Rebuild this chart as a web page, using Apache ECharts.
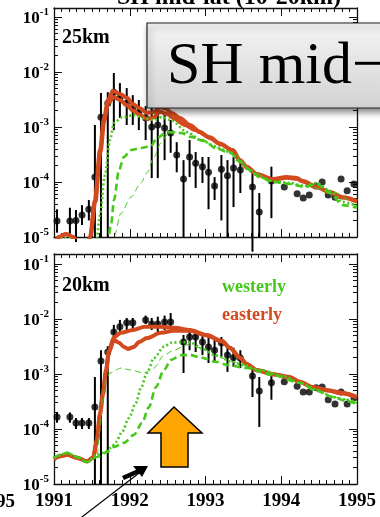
<!DOCTYPE html>
<html>
<head>
<meta charset="utf-8">
<script src="https://cdn.jsdelivr.net/npm/echarts@6.0.0/dist/echarts.min.js"></script>
<style>
  html, body { margin: 0; padding: 0; background: #fff; }
  #main { width: 380px; height: 517px; }
</style>
</head>
<body>
<div id="main"></div>
<script>
var RED = '#d24a1e';
var GREEN = '#46c81a';
var SERIF = '"Liberation Serif", "DejaVu Serif", serif';

// ---- 25km panel : observations (monthly) ----
var OBS25_T  = [1991.04, 1991.21, 1991.29, 1991.37, 1991.46, 1991.54, 1991.62, 1991.71, 1991.79, 1991.87, 1991.96, 1992.04, 1992.12, 1992.21, 1992.29, 1992.37, 1992.46, 1992.54, 1992.62, 1992.71, 1992.79, 1992.87, 1992.96, 1993.04, 1993.12, 1993.21, 1993.29, 1993.37, 1993.46, 1993.62, 1993.71, 1993.87, 1994.04, 1994.21, 1994.29, 1994.37, 1994.46, 1994.54, 1994.62, 1994.71, 1994.79, 1994.87, 1994.96];
var OBS25    = [1.95e-5, 1.95e-5, 2.0e-5, 2.5e-5, 3.2e-5, 1.23e-4, 1.5e-3, 2.7e-3, 4.3e-3, 3.4e-3, 2.7e-3, 2.2e-3, 1.85e-3, 1.46e-3, 1.0e-3, 1.09e-3, 9.6e-4, 7.8e-4, 3.1e-4, 1.13e-4, 2.85e-4, 2.2e-4, 1.9e-4, 1.5e-4, 8.5e-5, 1.7e-4, 1.3e-4, 1.8e-4, 1.65e-4, 8.1e-5, 2.85e-5, 1.04e-4, 8.1e-5, 6.1e-5, 5.1e-5, 5.8e-5, 8.5e-5, 1.0e-4, 5.8e-5, 5.3e-5, 1.13e-4, 6.9e-5, 9.2e-5];
var OBS25_HI = [3.2e-5, 3.4e-5, 3.1e-5, 3.8e-5, 4.7e-5, 1.09e-3, 4.15e-3, 4.3e-3, 9.6e-3, 6.3e-3, 5.1e-3, 3.8e-3, 3.1e-3, 2.4e-3, 2.3e-3, 1.9e-3, 1.65e-3, 1.34e-3, 5.3e-4, 2.5e-4, 5.8e-4, 3.5e-4, 2.85e-4, 2.85e-4, 1.23e-4, 3.1e-4, 2.5e-4, 2.85e-4, 2.5e-4, 1.65e-4, 6.3e-5, 1.9e-4, null, null, null, null, null, null, null, null, null, null, null];
var OBS25_LO = [1.2e-5, 1.0e-5, 8.1e-6, 1.65e-5, 2.0e-5, 1.0e-5, 1.0e-5, 1.0e-5, 8.8e-4, 1.46e-3, 1.09e-3, 1.09e-3, 8.8e-4, 5.8e-4, 1.18e-4, 1.18e-4, 2.5e-4, 3.4e-4, 1.5e-4, 1.0e-5, 1.23e-4, 7.8e-5, 9.6e-5, 3.2e-5, 4.7e-5, 2.0e-5, 1.0e-5, 3.5e-5, 6.3e-5, 5.4e-6, 1.0e-5, 2.2e-5, null, null, null, null, null, null, null, null, null, null, null];

// ---- 25km panel : model runs ----
var E25A_T = [1991.0, 1991.066, 1991.158, 1991.25, 1991.343, 1991.435, 1991.475, 1991.54, 1991.607, 1991.66, 1991.712, 1991.778, 1991.871, 1991.963, 1992.042, 1992.135, 1992.227, 1992.319, 1992.398, 1992.464, 1992.557, 1992.662, 1992.794, 1992.926, 1993.058, 1993.19, 1993.362, 1993.454, 1993.546, 1993.678, 1993.889, 1994.074, 1994.206, 1994.285, 1994.47, 1994.641, 1994.813, 1995.0];
var E25A   = [7.2e-6, 1.0e-5, 1.13e-5, 1.0e-5, 6.9e-6, 6.9e-6, 1.0e-5, 4.7e-5, 3.8e-4, 1.46e-3, 3.1e-3, 4.5e-3, 4.0e-3, 3.4e-3, 2.6e-3, 2.2e-3, 1.8e-3, 1.87e-3, 2.3e-3, 2.2e-3, 1.8e-3, 1.46e-3, 1.09e-3, 8.1e-4, 6.3e-4, 4.9e-4, 3.8e-4, 2.5e-4, 1.9e-4, 1.4e-4, 1.13e-4, 1.23e-4, 1.18e-4, 1.04e-4, 8.1e-5, 6.6e-5, 5.3e-5, 4.5e-5];
var E25B_T = [1991.0, 1991.066, 1991.158, 1991.25, 1991.343, 1991.435, 1991.48, 1991.545, 1991.612, 1991.665, 1991.712, 1991.792, 1991.871, 1991.963, 1992.042, 1992.135, 1992.227, 1992.319, 1992.398, 1992.491, 1992.596, 1992.728, 1992.86, 1993.058, 1993.19, 1993.362, 1993.454, 1993.546, 1993.678, 1993.889, 1994.074, 1994.206, 1994.285, 1994.47, 1994.641, 1994.813, 1995.0];
var E25B   = [7.2e-6, 1.0e-5, 1.13e-5, 1.0e-5, 6.9e-6, 6.9e-6, 1.0e-5, 4.3e-5, 3.4e-4, 1.3e-3, 2.7e-3, 3.5e-3, 3.1e-3, 2.5e-3, 2.0e-3, 1.65e-3, 1.4e-3, 1.5e-3, 1.9e-3, 1.72e-3, 1.4e-3, 1.09e-3, 8.8e-4, 6.5e-4, 5.0e-4, 3.7e-4, 2.4e-4, 1.85e-4, 1.38e-4, 1.1e-4, 1.2e-4, 1.15e-4, 1.02e-4, 8.0e-5, 6.5e-5, 5.2e-5, 4.4e-5];
var W25DOT_T = [1991.0, 1991.1, 1991.2, 1991.3, 1991.554, 1991.607, 1991.673, 1991.739, 1991.792, 1991.897, 1992.055, 1992.187, 1992.319, 1992.412, 1992.544, 1992.755, 1992.939, 1993.124, 1993.322, 1993.454, 1993.586, 1993.718, 1993.889, 1994.113, 1994.311, 1994.47, 1994.641, 1994.813, 1995.0];
var W25DOT   = [7.0e-6, 9.5e-6, 9.5e-6, 7.0e-6, 7.2e-6, 2.5e-5, 1.34e-4, 5.8e-4, 1.18e-3, 1.5e-3, 1.65e-3, 1.46e-3, 1.34e-3, 1.5e-3, 1.34e-3, 8.1e-4, 5.8e-4, 4.5e-4, 3.5e-4, 2.3e-4, 1.58e-4, 1.23e-4, 1.04e-4, 9.6e-5, 8.5e-5, 9.6e-5, 6.9e-5, 4.3e-5, 3.7e-5];
var W25DASH_T = [1991.712, 1991.752, 1991.792, 1991.858, 1991.923, 1992.016, 1992.148, 1992.28, 1992.359, 1992.491, 1992.675, 1992.807, 1992.979, 1993.15, 1993.322, 1993.454, 1993.586, 1993.718, 1993.889, 1994.113, 1994.311, 1994.47, 1994.641, 1994.813, 1995.0];
var W25DASH   = [7.2e-6, 1.65e-5, 4.7e-5, 1.65e-4, 2.85e-4, 3.8e-4, 4.15e-4, 4.5e-4, 6.3e-4, 8.1e-4, 7.8e-4, 6.6e-4, 5.6e-4, 4.0e-4, 3.4e-4, 2.4e-4, 1.65e-4, 1.23e-4, 1.0e-4, 9.2e-5, 8.1e-5, 9.2e-5, 6.3e-5, 3.8e-5, 3.4e-5];
var W25THIN_T = [1991.765, 1991.792, 1991.884, 1992.016, 1992.148, 1992.227, 1992.319, 1992.412, 1992.491, 1992.596, 1992.755, 1992.939, 1993.15, 1993.361, 1993.586, 1993.889, 1994.311, 1994.641, 1995.0];
var W25THIN   = [7.2e-6, 1.0e-5, 2.7e-5, 5.3e-5, 9.6e-5, 1.46e-4, 2.85e-4, 5.1e-4, 7.2e-4, 8.1e-4, 7.8e-4, 5.8e-4, 4.15e-4, 3.4e-4, 1.65e-4, 1.04e-4, 8.5e-5, 6.9e-5, 3.5e-5];

// ---- 20km panel : observations ----
var OBS20_T  = [1991.04, 1991.21, 1991.29, 1991.37, 1991.46, 1991.54, 1991.62, 1991.71, 1991.79, 1991.87, 1991.96, 1992.04, 1992.21, 1992.29, 1992.37, 1992.46, 1992.54, 1992.71, 1992.79, 1992.87, 1992.96, 1993.04, 1993.12, 1993.21, 1993.29, 1993.37, 1993.46, 1993.62, 1993.71, 1993.87, 1994.04, 1994.21, 1994.29, 1994.37, 1994.46, 1994.54, 1994.62, 1994.71, 1994.79, 1994.87, 1994.96];
var OBS20    = [1.65e-4, 1.65e-4, 1.28e-4, 1.28e-4, 1.28e-4, 2.5e-4, 1.72e-3, 2.5e-3, 5.8e-3, 7.2e-3, 8.5e-3, 8.5e-3, 9.6e-3, 8.1e-3, 8.1e-3, 8.8e-3, 8.8e-3, 3.8e-3, 4.7e-3, 4.7e-3, 3.8e-3, 3.1e-3, 2.7e-3, 3.7e-3, 2.2e-3, 2.0e-3, 1.95e-3, 9.2e-4, 4.9e-4, 6.9e-4, 7.2e-4, 6.0e-4, 4.7e-4, 4.7e-4, 5.6e-4, 5.8e-4, 3.4e-4, 2.85e-4, 4.7e-4, 2.85e-4, 3.7e-4];
var OBS20_HI = [2.0e-4, 2.0e-4, 1.58e-4, 1.58e-4, 1.58e-4, 8.8e-4, 2.7e-3, 3.2e-3, 7.8e-3, 9.6e-3, 1.04e-2, 1.04e-2, 1.15e-2, 1.04e-2, 1.1e-2, 1.15e-2, 1.28e-2, 5.1e-3, 6.3e-3, 6.3e-3, 5.1e-3, 5.1e-3, 4.15e-3, 4.7e-3, 3.2e-3, 3.0e-3, 2.7e-3, 1.34e-3, 8.8e-4, 9.6e-4, null, null, null, null, null, null, null, null, null, null, null];
var OBS20_LO = [1.3e-4, 1.3e-4, 1.0e-4, 1.0e-4, 1.0e-4, 1.0e-5, 1.0e-5, 1.0e-5, 3.7e-3, 5.6e-3, 6.3e-3, 6.3e-3, 8.1e-3, 6.3e-3, 5.6e-3, 6.3e-3, 6.3e-3, 1.04e-3, 2.7e-3, 2.5e-3, 2.2e-3, 1.58e-3, 1.6e-3, 2.0e-3, 1.09e-3, 1.34e-3, 1.28e-3, 3.8e-4, 1.09e-4, 3.4e-4, null, null, null, null, null, null, null, null, null, null, null];

// ---- 20km panel : model runs ----
var E20A_T = [1991.0, 1991.079, 1991.172, 1991.303, 1991.435, 1991.515, 1991.567, 1991.607, 1991.646, 1991.686, 1991.726, 1991.792, 1991.884, 1992.042, 1992.2, 1992.398, 1992.596, 1992.794, 1993.018, 1993.216, 1993.322, 1993.454, 1993.546, 1993.678, 1993.889, 1994.113, 1994.245, 1994.417, 1994.602, 1994.813, 1995.0];
var E20A   = [2.85e-5, 3.2e-5, 3.4e-5, 3.0e-5, 2.6e-5, 3.0e-5, 6.3e-5, 1.95e-4, 4.5e-4, 1.18e-3, 2.7e-3, 4.7e-3, 5.6e-3, 6.3e-3, 7.2e-3, 7.2e-3, 6.9e-3, 6.3e-3, 5.1e-3, 4.0e-3, 3.0e-3, 2.0e-3, 1.52e-3, 1.18e-3, 1.0e-3, 8.8e-4, 7.2e-4, 5.8e-4, 5.1e-4, 4.5e-4, 3.8e-4];
var E20B_T = [1991.0, 1991.079, 1991.172, 1991.303, 1991.435, 1991.515, 1991.567, 1991.607, 1991.646, 1991.686, 1991.726, 1991.792, 1991.858, 1991.923, 1991.976, 1992.055, 1992.121, 1992.227, 1992.412, 1992.583, 1992.794, 1993.018, 1993.216, 1993.322, 1993.454, 1993.546, 1993.678, 1993.889, 1994.113, 1994.245, 1994.417, 1994.602, 1994.813, 1995.0];
var E20B   = [2.85e-5, 3.2e-5, 3.4e-5, 3.0e-5, 2.6e-5, 3.0e-5, 6.0e-5, 1.8e-4, 4.2e-4, 1.1e-3, 2.5e-3, 4.15e-3, 3.7e-3, 3.1e-3, 2.85e-3, 3.1e-3, 3.8e-3, 4.5e-3, 5.6e-3, 6.1e-3, 6.1e-3, 5.0e-3, 3.9e-3, 2.95e-3, 1.98e-3, 1.5e-3, 1.16e-3, 9.8e-4, 8.6e-4, 7.1e-4, 5.7e-4, 5.0e-4, 4.4e-4, 3.75e-4];
var W20DOT_T = [1991.0, 1991.092, 1991.172, 1991.303, 1991.435, 1991.567, 1991.66, 1991.752, 1991.818, 1991.897, 1991.989, 1992.082, 1992.148, 1992.227, 1992.319, 1992.451, 1992.544, 1992.675, 1992.807, 1992.966, 1993.124, 1993.361, 1993.493, 1993.718, 1994.021, 1994.245, 1994.47, 1994.681, 1994.865, 1995.0];
var W20DOT   = [3.0e-5, 3.4e-5, 3.7e-5, 3.1e-5, 2.5e-5, 3.4e-5, 3.7e-5, 4.5e-5, 5.8e-5, 8.8e-5, 1.58e-4, 3.0e-4, 5.6e-4, 1.04e-3, 1.95e-3, 3.1e-3, 3.7e-3, 3.8e-3, 3.7e-3, 2.85e-3, 2.2e-3, 1.65e-3, 1.46e-3, 1.18e-3, 9.2e-4, 6.9e-4, 5.1e-4, 3.8e-4, 3.4e-4, 3.0e-4];
var W20DASH_T = [1991.0, 1991.092, 1991.172, 1991.303, 1991.435, 1991.567, 1991.699, 1991.792, 1991.923, 1992.055, 1992.161, 1992.253, 1992.346, 1992.451, 1992.544, 1992.675, 1992.807, 1992.926, 1993.15, 1993.282, 1993.546, 1993.889, 1994.245, 1994.47, 1994.681, 1994.865, 1995.0];
var W20DASH   = [3.0e-5, 3.4e-5, 3.7e-5, 3.1e-5, 2.5e-5, 3.1e-5, 3.8e-5, 4.7e-5, 5.6e-5, 7.8e-5, 1.28e-4, 2.5e-4, 5.8e-4, 1.18e-3, 1.8e-3, 2.2e-3, 2.2e-3, 2.0e-3, 1.65e-3, 1.46e-3, 1.28e-3, 9.6e-4, 6.9e-4, 4.9e-4, 3.8e-4, 3.2e-4, 2.85e-4];
var W20THIN_T = [1991.0, 1991.092, 1991.172, 1991.303, 1991.435, 1991.567, 1991.607, 1991.646, 1991.686, 1991.739, 1991.884, 1992.016, 1992.187, 1992.319, 1992.451, 1992.583, 1992.755, 1992.939, 1993.15, 1993.361, 1993.718, 1994.021, 1994.245, 1994.47, 1994.681, 1995.0];
var W20THIN   = [3.0e-5, 3.4e-5, 3.7e-5, 3.1e-5, 2.5e-5, 3.1e-5, 9.6e-5, 4.15e-4, 7.8e-4, 1.04e-3, 1.28e-3, 1.18e-3, 1.04e-3, 1.28e-3, 2.2e-3, 2.7e-3, 3.4e-3, 3.0e-3, 2.1e-3, 1.65e-3, 1.18e-3, 9.2e-4, 6.9e-4, 5.1e-4, 3.8e-4, 3.0e-4];

var YEAR_MIN = 1991, YEAR_MAX = 1995;
var DECADES = [-5, -4, -3, -2, -1];
var TOP_MAX = -0.836, BOT_MAX = -0.82;   // axes reach a bit above 10^-1

// log10 positions of the 2..9 sub ticks
var MINOR = [];
for (var n = -5; n <= -2; n++) {
    for (var k = 2; k <= 9; k++) MINOR.push(n + Math.log10(k));
}

function pairs(t, v) {
    var out = [];
    for (var i = 0; i < t.length; i++) out.push([t[i], Math.log10(v[i])]);
    return out;
}

function xAxes(g, showLabel) {
    var base = {
        gridIndex: g, type: 'value', min: YEAR_MIN, max: YEAR_MAX, interval: 1,
        axisLine: { show: true, lineStyle: { color: '#111', width: 1.3 } },
        axisTick: { inside: true, length: 8, lineStyle: { color: '#111', width: 1 } },
        minorTick: { show: true, splitNumber: 10, length: 4, lineStyle: { color: '#111', width: 1 } },
        splitLine: { show: false }
    };
    var bottom = echarts.util.merge({ position: 'bottom', axisLabel: {
        show: showLabel, margin: 8, color: '#000', fontFamily: SERIF, fontWeight: 'bold', fontSize: 19,
        formatter: function (v) { return '' + v; } } }, base);
    var top = echarts.util.merge({ position: 'top', axisLabel: { show: false } }, base);
    return [bottom, top];
}

function yAxes(g, max) {
    var line = { show: true, lineStyle: { color: '#111', width: 1.3 } };
    var major = { inside: true, length: 8, customValues: DECADES, lineStyle: { color: '#111', width: 1 } };
    var minor = { inside: true, length: 4, customValues: MINOR, lineStyle: { color: '#111', width: 1 } };
    return [
        { gridIndex: g, type: 'value', position: 'left', min: -5, max: max, interval: 1,
          axisLine: line, axisTick: major, splitLine: { show: false },
          axisLabel: {
              margin: 5, customValues: DECADES,
              formatter: function (v) {
                  if (Math.abs(v - Math.round(v)) > 1e-6) return '';
                  return '{b|10}{s|' + Math.round(v) + '}';
              },
              rich: {
                  b: { fontFamily: SERIF, fontWeight: 'bold', fontSize: 17, color: '#000', lineHeight: 20, verticalAlign: 'bottom' },
                  s: { fontFamily: SERIF, fontWeight: 'bold', fontSize: 11, color: '#000', lineHeight: 20, verticalAlign: 'top' }
              }
          } },
        { gridIndex: g, type: 'value', position: 'left', min: -5, max: max,
          axisLine: { show: false }, axisTick: minor, axisLabel: { show: false }, splitLine: { show: false } },
        { gridIndex: g, type: 'value', position: 'right', min: -5, max: max, interval: 1,
          axisLine: line, axisTick: major, axisLabel: { show: false }, splitLine: { show: false } },
        { gridIndex: g, type: 'value', position: 'right', min: -5, max: max,
          axisLine: { show: false }, axisTick: minor, axisLabel: { show: false }, splitLine: { show: false } }
    ];
}

function curve(xi, yi, t, v, color, width, dash, z) {
    return {
        type: 'line', xAxisIndex: xi, yAxisIndex: yi, data: pairs(t, v),
        showSymbol: false, symbol: 'none', smooth: 0.3, smoothMonotone: 'x', z: z, silent: true,
        lineStyle: { color: color, width: width, type: dash, cap: 'butt' }
    };
}

function obsDots(xi, yi, t, v) {
    return {
        type: 'scatter', xAxisIndex: xi, yAxisIndex: yi, data: pairs(t, v),
        symbol: 'circle', symbolSize: 7, itemStyle: { color: '#000' }, z: 3, silent: true
    };
}

function obsBars(xi, yi, t, lo, hi) {
    var d = [];
    for (var i = 0; i < t.length; i++) {
        if (lo[i] == null || hi[i] == null) continue;
        d.push([t[i], Math.log10(lo[i]), Math.log10(hi[i])]);
    }
    return {
        type: 'custom', xAxisIndex: xi, yAxisIndex: yi, data: d, z: 2, silent: true,
        encode: { x: 0, y: [1, 2] },
        renderItem: function (params, api) {
            var a = api.coord([api.value(0), api.value(1)]);
            var b = api.coord([api.value(0), api.value(2)]);
            return { type: 'line', shape: { x1: a[0], y1: a[1], x2: b[0], y2: b[1] },
                     style: { stroke: '#000', lineWidth: 2 } };
        }
    };
}

function panelSeries(xi, yi, p) {
    return [
        obsBars(xi, yi, p.t, p.lo, p.hi),
        obsDots(xi, yi, p.t, p.v),
        curve(xi, yi, p.eaT, p.ea, RED, 4, 'solid', 4),
        curve(xi, yi, p.ebT, p.eb, RED, 4, 'solid', 4),
        curve(xi, yi, p.thinT, p.thin, GREEN, 1, [6, 4], 5),
        curve(xi, yi, p.dashT, p.dash, GREEN, 2.6, [7, 4], 5),
        curve(xi, yi, p.dotT, p.dot, GREEN, 2.6, [2, 2.5], 5)
    ];
}

var chart = echarts.init(document.getElementById('main'), null, { renderer: 'canvas' });

var series = panelSeries(0, 0, {
    t: OBS25_T, v: OBS25, lo: OBS25_LO, hi: OBS25_HI,
    eaT: E25A_T, ea: E25A, ebT: E25B_T, eb: E25B,
    dotT: W25DOT_T, dot: W25DOT, dashT: W25DASH_T, dash: W25DASH, thinT: W25THIN_T, thin: W25THIN
}).concat(panelSeries(2, 4, {
    t: OBS20_T, v: OBS20, lo: OBS20_LO, hi: OBS20_HI,
    eaT: E20A_T, ea: E20A, ebT: E20B_T, eb: E20B,
    dotT: W20DOT_T, dot: W20DOT, dashT: W20DASH_T, dash: W20DASH, thinT: W20THIN_T, thin: W20THIN
}));

var txt = function (x, y, s, font, color, align, valign) {
    return { type: 'text', x: x, y: y, z: 50, silent: true,
             style: { text: s, font: font, fill: color || '#000', align: align || 'left', verticalAlign: valign || 'middle' } };
};

var option = {
    animation: false,
    backgroundColor: '#fff',
    grid: [
        { left: 54, top: 8, width: 303, height: 229 },
        { left: 54, top: 254, width: 303, height: 230 }
    ],
    xAxis: xAxes(0, false).concat(xAxes(1, true)),
    yAxis: yAxes(0, TOP_MAX).concat(yAxes(1, BOT_MAX)),
    series: series,
    graphic: [
        // cut-off title and neighbour label
        txt(229, 10, 'SH mid-lat (10-20km)', 'bold 24px ' + SERIF, '#000', 'center', 'bottom'),
        txt(15, 502, '1995', 'bold 19px ' + SERIF, '#000', 'right', 'middle'),
        txt(62, 38, '25km', 'bold 20px ' + SERIF),
        txt(62, 286, '20km', 'bold 20px ' + SERIF),
        txt(222, 287, 'westerly', 'bold 18px ' + SERIF, GREEN),
        txt(222, 315, 'easterly', 'bold 18px ' + SERIF, RED),
        // overlaid slide box
        { type: 'rect', z: 60, silent: true,
          shape: { x: 147, y: 23, width: 260, height: 85 },
          style: {
              fill: new echarts.graphic.LinearGradient(0, 0, 0, 1, [
                  { offset: 0, color: '#f4f4f4' }, { offset: 1, color: '#d2d2d2' }]),
              stroke: '#222', lineWidth: 1.2,
              shadowBlur: 6, shadowOffsetX: 2, shadowOffsetY: 4, shadowColor: 'rgba(0,0,0,0.45)'
          } },
        { type: 'text', x: 167, y: 67, z: 61, silent: true,
          style: { text: 'SH mid\u2212latitudes', font: '60px ' + SERIF, fill: '#000', verticalAlign: 'middle' } },
        // orange up arrow
        { type: 'polygon', z: 55, silent: true,
          shape: { points: [[174, 407], [202, 433], [188, 433], [188, 467], [161, 467], [161, 433], [148, 433]] },
          style: { fill: '#ffa603', stroke: '#000', lineWidth: 1.5 } },
        // black pointer arrow
        { type: 'line', z: 55, silent: true,
          shape: { x1: 78, y1: 520, x2: 143, y2: 470 }, style: { stroke: '#000', lineWidth: 1.2 } },
        { type: 'line', z: 55, silent: true,
          shape: { x1: 123, y1: 478, x2: 141, y2: 470 }, style: { stroke: '#000', lineWidth: 4.5 } },
        { type: 'polygon', z: 55, silent: true,
          shape: { points: [[148, 466], [133, 466], [142, 477]] }, style: { fill: '#000' } }
    ]
};

chart.setOption(option);
</script>
</body>
</html>
